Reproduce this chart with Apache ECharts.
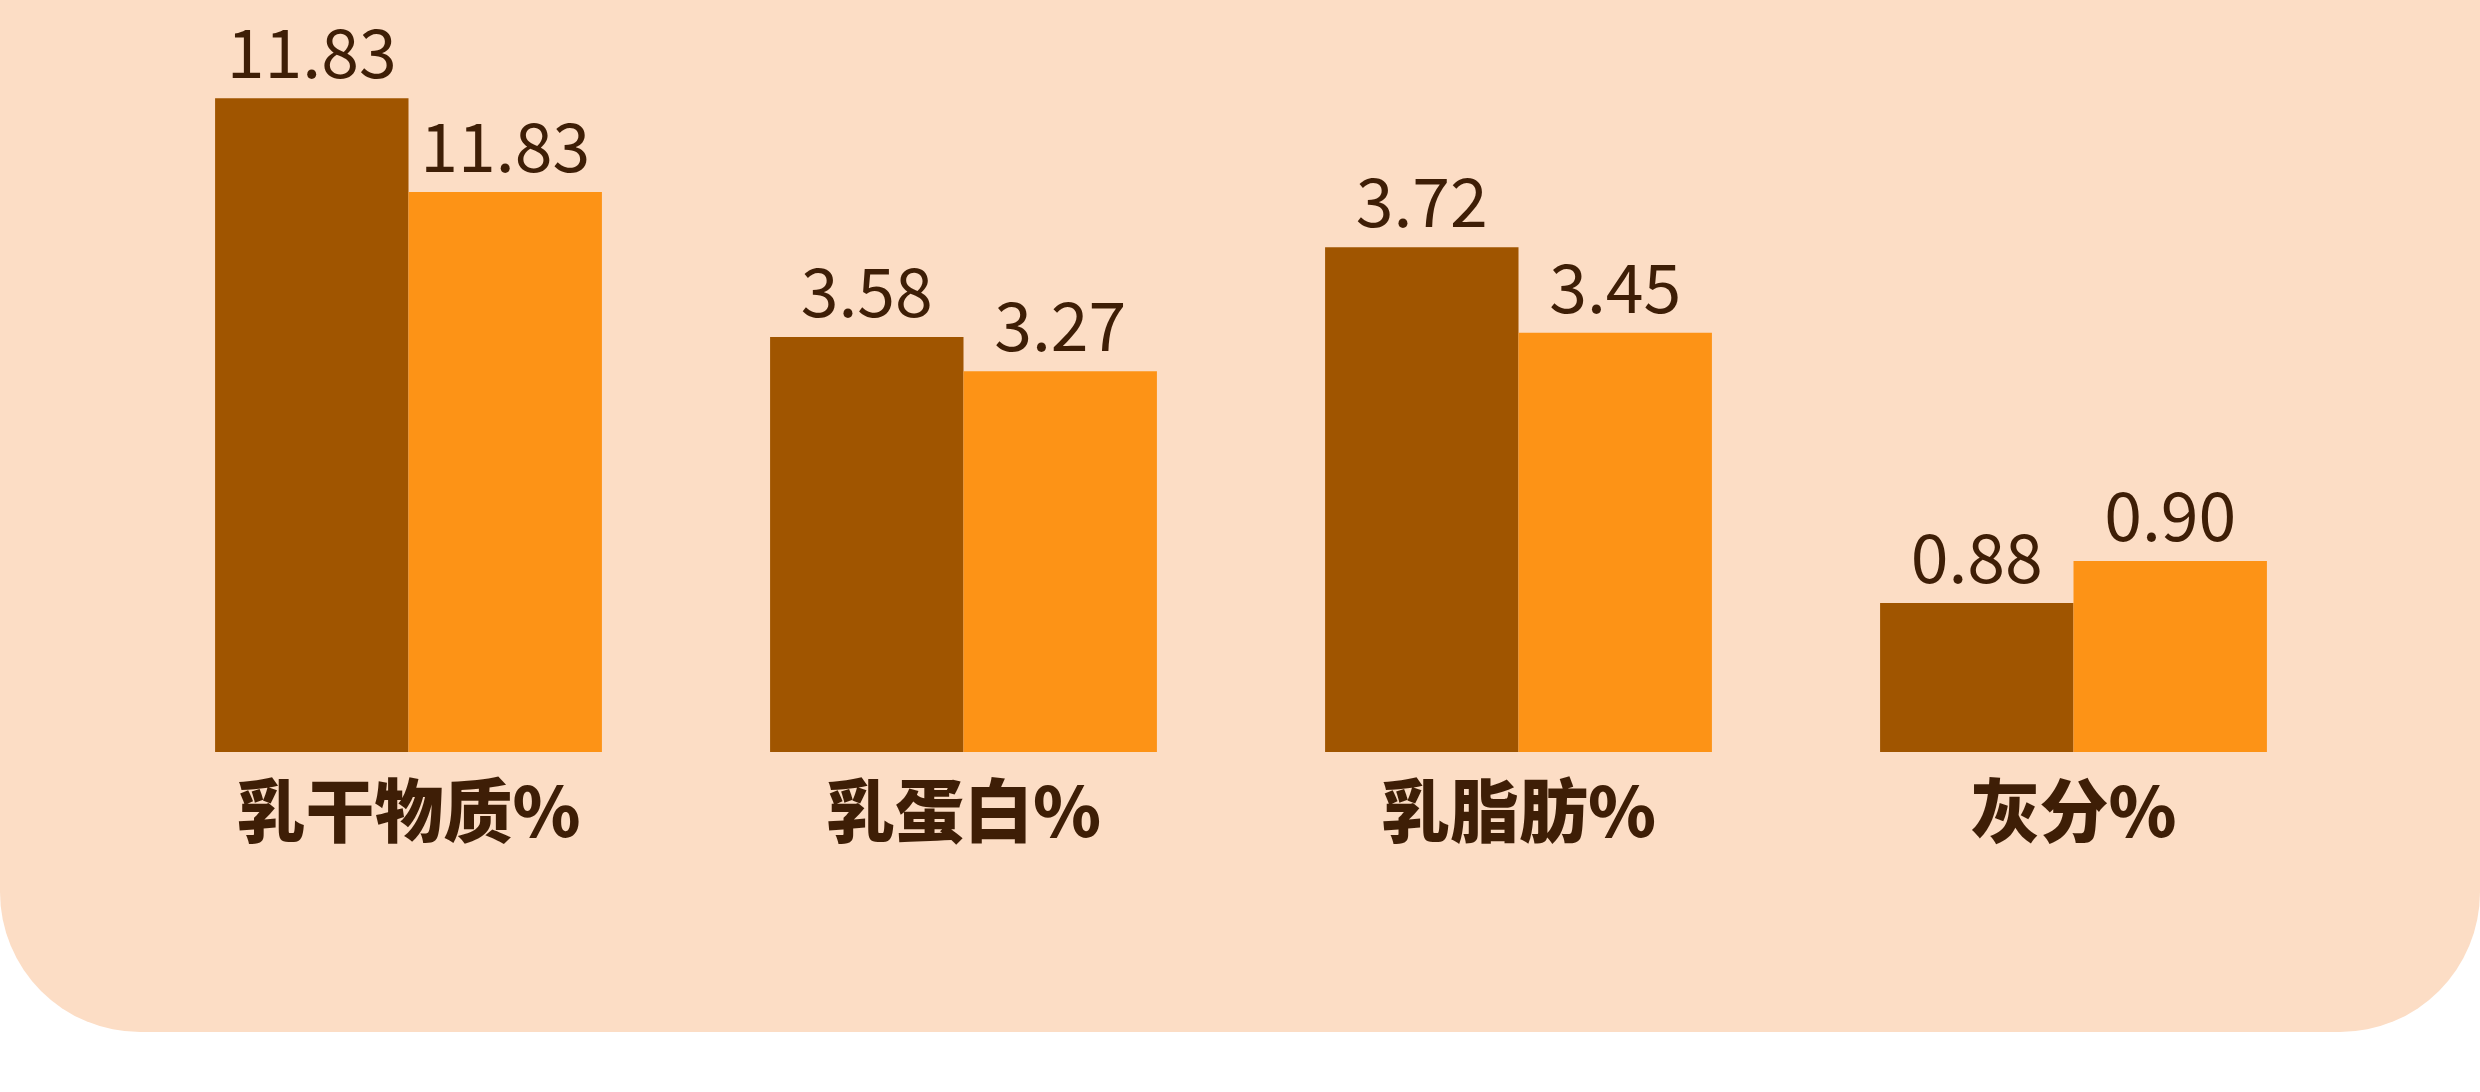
<!DOCTYPE html>
<html>
<head>
<meta charset="utf-8">
<script src="https://cdn.jsdelivr.net/npm/echarts@6/dist/echarts.min.js"></script>
<style>
html,body{margin:0;padding:0;background:#ffffff;}
#chart{width:2480px;height:1092px;}
</style>
</head>
<body>
<div id="chart"></div>
<script>
// Categories (x axis labels)
var categories = ['乳干物质%', '乳蛋白%', '乳脂肪%', '灰分%'];
// Printed values shown above the bars
var darkValues = [11.83, 3.58, 3.72, 0.88];
var orangeValues = [11.83, 3.27, 3.45, 0.90];
// Bar heights as drawn in the picture (the infographic's bars are not to scale),
// read on a 0-100 visual scale
var darkLevels = [93.4, 59.3, 72.1, 21.3];
var orangeLevels = [80.0, 54.4, 59.9, 27.3];

var TEXT = '#3E1E06';
var chart = echarts.init(document.getElementById('chart'), null, {renderer: 'canvas'});

function labelCfg(vals) {
  return {
    show: true,
    position: 'top',
    distance: 12,
    color: TEXT,
    fontFamily: '"Noto Sans CJK SC", "Noto Sans", sans-serif',
    fontWeight: 'normal',
    fontSize: 68,
    formatter: function (p) { return vals[p.dataIndex].toFixed(2); }
  };
}

chart.setOption({
  animation: false,
  backgroundColor: '#ffffff',
  graphic: [{
    type: 'rect',
    z: -10,
    silent: true,
    shape: {x: 0, y: -200, width: 2480, height: 1232, r: [0, 0, 140, 140]},
    style: {fill: '#FCDDC5'}
  }],
  grid: {left: 131, right: 129, top: 52, bottom: 340, containLabel: false},
  xAxis: {
    type: 'category',
    data: categories,
    axisLine: {show: false},
    axisTick: {show: false},
    axisLabel: {
      margin: 24,
      color: TEXT,
      fontFamily: '"Noto Sans CJK SC", sans-serif',
      fontWeight: 900,
      fontSize: 69,
      lineHeight: 69
    }
  },
  yAxis: {
    type: 'value',
    min: 0,
    max: 100,
    show: false,
    splitLine: {show: false}
  },
  series: [
    {
      type: 'bar',
      data: darkLevels,
      barGap: '0%',
      barCategoryGap: '30.3%',
      itemStyle: {color: '#A05500'},
      label: labelCfg(darkValues)
    },
    {
      type: 'bar',
      data: orangeLevels,
      itemStyle: {color: '#FD9316'},
      label: labelCfg(orangeValues)
    }
  ]
});
</script>
</body>
</html>
